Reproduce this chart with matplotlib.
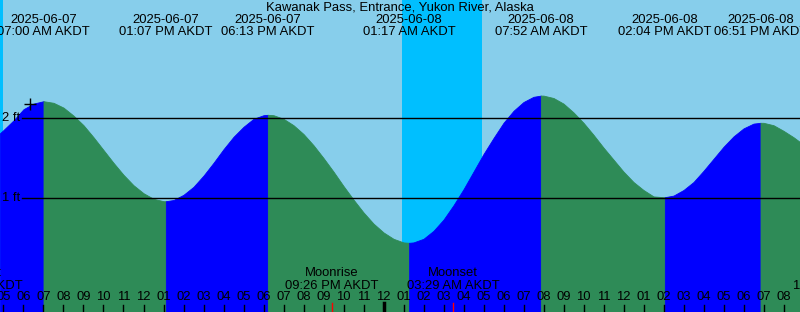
import matplotlib
matplotlib.use("Agg")
import matplotlib.pyplot as plt
import numpy as np

plt.rcParams["font.family"] = ["Liberation Sans", "DejaVu Sans"]
FS = 9.4

# Hours since 2025-06-07 00:00 AKDT
T_START, T_END = 4.825, 44.825

# Water level every half hour from 05:00 (ft)
level_t = [5.0 + 0.5 * i for i in range(80)]
level_h = [1.85, 1.97, 2.11, 2.18, 2.21, 2.19, 2.13, 2.03, 1.91, 1.76,
           1.60, 1.44, 1.29, 1.16, 1.06, 0.99, 0.96, 0.975, 1.04, 1.14,
           1.28, 1.44, 1.61, 1.765, 1.89, 1.99, 2.035, 2.035, 1.99, 1.91,
           1.80, 1.66, 1.50, 1.33, 1.15, 0.98, 0.82, 0.68, 0.57, 0.49,
           0.445, 0.445, 0.49, 0.59, 0.73, 0.91, 1.11, 1.33, 1.55, 1.75,
           1.94, 2.09, 2.20, 2.265, 2.28, 2.25, 2.18, 2.07, 1.94, 1.79,
           1.63, 1.48, 1.33, 1.20, 1.10, 1.02, 1.01, 1.03, 1.10, 1.20,
           1.34, 1.49, 1.64, 1.77, 1.87, 1.93, 1.94, 1.91, 1.84, 1.76]
edge_t = [T_START, T_END]
edge_h = [1.81, 1.70]

# High / low tides
ext_t = [7.0, 13.117, 18.217, 25.283, 31.867, 38.067, 42.85]
ext_h = [2.21, 0.96, 2.04, 0.44, 2.28, 1.01, 1.94]
ext_date = ["2025-06-07", "2025-06-07", "2025-06-07", "2025-06-08",
            "2025-06-08", "2025-06-08", "2025-06-08"]
ext_time = ["07:00 AM AKDT", "01:07 PM AKDT", "06:13 PM AKDT", "01:17 AM AKDT",
            "07:52 AM AKDT", "02:04 PM AKDT", "06:51 PM AKDT"]

# Night (sun down)
night_spans = [(T_START, 4.975), (24.925, 28.925)]

# Moon events
moon_t = [3.65, 21.433, 27.483, 46.833]
moon_name = ["Moonset", "Moonrise", "Moonset", "Moonrise"]
moon_time = ["03:39 AM AKDT", "09:26 PM AKDT", "03:29 AM AKDT", "10:50 PM AKDT"]


# pixel helpers (800x312 canvas, 20 px per hour, 80 px per foot)
def px_x(x):
    return 7 + (x - 43.5) / 20.0


def px_y(y):
    return (278 - y) / 80.0


Y_BOT, Y_TOP = px_y(312), px_y(0)

t = np.array(level_t + edge_t + ext_t, dtype=float)
h = np.array(level_h + edge_h + ext_h, dtype=float)
order = np.argsort(t)
t, h = t[order], h[order]

fig = plt.figure(figsize=(8, 3.12), dpi=100)
ax = fig.add_axes([0, 0, 1, 1])
ax.set_xlim(T_START, T_END)
ax.set_ylim(Y_BOT, Y_TOP)
ax.axis("off")
ax.add_patch(plt.Rectangle((T_START, Y_BOT), T_END - T_START, Y_TOP - Y_BOT,
                           color="#87CEEB", zorder=0))
for a, b in night_spans:
    ax.axvspan(a, b, color="#00BFFF", lw=0, zorder=1)

# water fill: blue while rising, green while falling
bounds = [T_START] + ext_t + [T_END]
bound_h = [edge_h[0]] + ext_h + [edge_h[1]]
for i in range(len(bounds) - 1):
    a, b = bounds[i], bounds[i + 1]
    m = (t >= a - 1e-9) & (t <= b + 1e-9)
    col = "#0000FF" if bound_h[i + 1] > bound_h[i] else "#2E8B57"
    ax.fill_between(t[m], Y_BOT, h[m], color=col, lw=0.6, edgecolor=col, zorder=2)

# depth lines
for lvl in [1, 2]:
    ax.plot([px_x(22), T_END], [lvl, lvl], color="black", lw=1, zorder=3)
    ax.text(px_x(2), lvl, f"{lvl} ft", fontsize=FS, va="center", ha="left", zorder=4)

ax.plot(px_x(30.5), px_y(104), marker="+", color="black", ms=9, mew=1, zorder=4)

ax.text((T_START + T_END) / 2, px_y(7.5), "Kawanak Pass, Entrance, Yukon River, Alaska",
        fontsize=FS, ha="center", va="center", zorder=4)
for et, d, s in zip(ext_t, ext_date, ext_time):
    ax.text(et, px_y(20), d, fontsize=FS, ha="center", va="center", zorder=4)
    ax.text(et, px_y(32), s, fontsize=FS, ha="center", va="center", zorder=4)

for mt, n, s in zip(moon_t, moon_name, moon_time):
    ax.text(mt, px_y(273.5), n, fontsize=FS, ha="center", va="center", zorder=4)
    ax.text(mt, px_y(286), s, fontsize=FS, ha="center", va="center", zorder=4)
    ax.plot([mt, mt], [px_y(303), Y_BOT], color="#FF0000", lw=1, zorder=4)

# hour ticks
for hr in range(5, 45):
    lab = f"{(hr % 12) or 12:02d}"
    ax.text(hr, px_y(297), lab, fontsize=FS, ha="center", va="center", zorder=4)
    if hr % 24 == 0:
        ax.plot([hr, hr], [px_y(303), Y_BOT], color="black", lw=2.5, zorder=4)
    else:
        ax.plot([hr, hr], [px_y(305), Y_BOT], color="black", lw=1, zorder=4)

fig.savefig("out.png", dpi=100)
